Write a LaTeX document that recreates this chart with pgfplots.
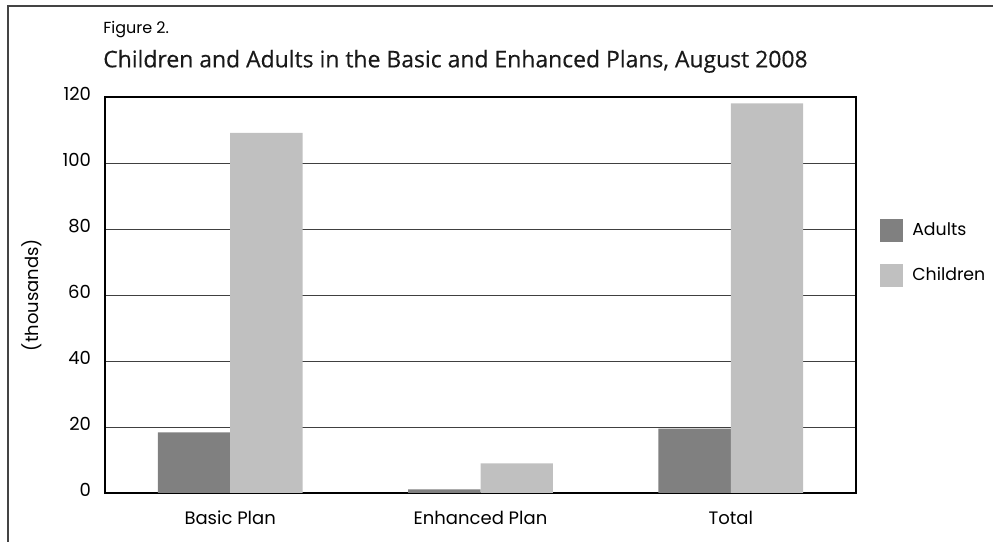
\documentclass[border=0pt]{standalone}
\usepackage{fontspec}
\setmainfont{Poppins}
\newfontfamily\titlefont{Open Sans}[FakeBold=0.35]
\usepackage{pgfplots}
\pgfplotsset{compat=1.18}
\definecolor{adultc}{HTML}{808080}
\definecolor{childc}{HTML}{C0C0C0}
\definecolor{framec}{HTML}{444444}
\begin{document}
\begin{tikzpicture}
\useasboundingbox (0pt,0pt) rectangle (744.75pt,406.5pt);
\draw[line width=1.1pt, color=framec] (6pt,0pt) -- (6pt,402pt) -- (744.75pt,402pt);
\node[anchor=base west, inner sep=0pt, font=\fontsize{12}{14}\selectfont] at (77.25pt,381pt) {Figure 2.};
\node[anchor=base west, inner sep=0pt, font=\titlefont\fontsize{17.2}{20}\selectfont, text=black!90] at (77.25pt,356pt) {Children and Adults in the Basic and Enhanced Plans, August 2008};
\begin{axis}[
  at={(78.75pt,36.75pt)}, anchor=south west,
  width=563.25pt, height=297pt, scale only axis,
  ymin=0, ymax=120, ytick={0,20,...,120},
  xmin=-0.5, xmax=2.5, xtick={0,1,2},
  xticklabels={Basic Plan, Enhanced Plan, Total},
  major tick length=0pt,
  axis line style={black, line width=1.1pt},
  ymajorgrids, grid style={black!75, line width=0.7pt},
  /pgf/number format/assume math mode=true,
  tick label style={font=\fontsize{13.5}{15}\selectfont},
  yticklabel style={anchor=east, xshift=-7pt, yshift=2pt},
  xticklabel style={anchor=base, yshift=-24pt},
  every axis y label/.style={at={(axis description cs:-0.097,0.5)}, rotate=90, anchor=center, font=\fontsize{13.5}{15}\selectfont},
  ylabel={(thousands)},
  legend style={draw=none, fill=none, inner sep=0pt, outer sep=0pt,
    at={(axis description cs:1.032,0.607)}, anchor=west,
    row sep=16.5pt, font=\fontsize{13}{15}\selectfont,
    nodes={inner sep=0pt}},
  legend cell align=left,
  /tikz/every even column/.append style={column sep=0pt},
  /tikz/every odd column/.append style={column sep=7pt},
]
\addplot[ybar, bar width=0.289, bar shift=-0.1445, fill=adultc, draw=none,
  legend image code/.code={\fill[adultc] (0pt,-8.6pt) rectangle (17.2pt,8.6pt);}]
  coordinates {(0,18.4) (1,1.1) (2,19.5)};
\addlegendentry{Adults}
\addplot[ybar, bar width=0.289, bar shift=0.1445, fill=childc, draw=none,
  legend image code/.code={\fill[childc] (0pt,-8.6pt) rectangle (17.2pt,8.6pt);}]
  coordinates {(0,109.1) (1,9.0) (2,118.1)};
\addlegendentry{Children}
\end{axis}
\end{tikzpicture}
\end{document}
